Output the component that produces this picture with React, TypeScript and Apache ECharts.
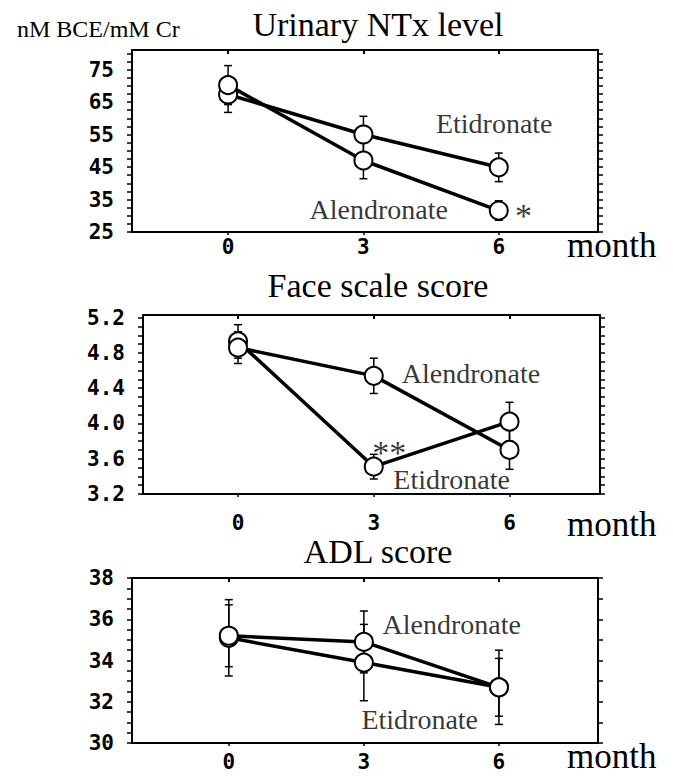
import React, { useEffect, useRef } from "react";
import * as echarts from "echarts";

// ---- data ----
const months = [0, 3, 6];

const ntxAlendronate = [70.2, 47.0, 31.6];
const ntxAlendronateErr = [6.0, 5.6, 3.0];
const ntxEtidronate = [67.3, 55.0, 44.9];
const ntxEtidronateErr = [5.5, 5.6, 4.4];

const faceAlendronate = [4.86, 4.54, 3.7];
const faceAlendronateErr = [0.18, 0.2, 0.22];
const faceEtidronate = [4.93, 3.51, 4.02];
const faceEtidronateErr = [0.19, 0.14, 0.22];

const adlAlendronate = [35.2, 34.9, 32.7];
const adlAlendronateErr = [1.5, 1.5, 1.4];
const adlEtidronate = [35.1, 33.9, 32.7];
const adlEtidronateErr = [1.85, 1.85, 1.8];

const ntxTicks = [25, 35, 45, 55, 65, 75];
const faceTicks = [3.2, 3.6, 4.0, 4.4, 4.8, 5.2];
const adlTicks = [30, 32, 34, 36, 38];

const ntxNotes = [
  { name: "Etidronate", value: [5.9, 58.5] },
  { name: "Alendronate", value: [3.34, 31.9] },
  { name: "*", value: [6.55, 30.0], label: { fontSize: 34 } },
];
const faceNotes = [
  { name: "Alendronate", value: [5.15, 4.57] },
  { name: "Etidronate", value: [4.72, 3.37] },
  { name: "**", value: [3.34, 3.67], label: { fontSize: 34 } },
];
const adlNotes = [
  { name: "Alendronate", value: [4.95, 35.74] },
  { name: "Etidronate", value: [4.24, 31.13] },
];

function steps(a: number, b: number, s: number) {
  const out: number[] = [];
  for (let v = a; v <= b + 1e-9; v += s) out.push(Math.round(v * 1000) / 1000);
  return out;
}

const SERIF = "Liberation Serif";
const MONO = "DejaVu Sans Mono";

type Panel = {
  title: string;
  titleY: number;
  grid: { left: number; top: number; width: number; height: number };
  xMin: number;
  xMax: number;
  yMin: number;
  yMax: number;
  labels: number[];
  leftTicks: number[];
  rightTicks: number[];
  fmt: (v: number) => string;
  xLabelMargin: number;
  monthY: number;
  alen: number[];
  alenErr: number[];
  etid: number[];
  etidErr: number[];
  notes: any[];
};

const panels: Panel[] = [
  {
    title: "Urinary NTx level",
    titleY: 24,
    grid: { left: 132, top: 50, width: 466, height: 182 },
    xMin: -2.13,
    xMax: 8.2,
    yMin: 25,
    yMax: 81,
    labels: ntxTicks,
    leftTicks: steps(25, 80, 2.5),
    rightTicks: steps(25, 80, 2.5),
    fmt: (v) => String(v),
    xLabelMargin: 4,
    monthY: 245,
    alen: ntxAlendronate,
    alenErr: ntxAlendronateErr,
    etid: ntxEtidronate,
    etidErr: ntxEtidronateErr,
    notes: ntxNotes,
  },
  {
    title: "Face scale score",
    titleY: 285,
    grid: { left: 143, top: 315, width: 457, height: 179 },
    xMin: -2.1,
    xMax: 8.0,
    yMin: 3.2,
    yMax: 5.23,
    labels: faceTicks,
    leftTicks: steps(3.2, 5.2, 0.1),
    rightTicks: steps(3.2, 5.2, 0.1),
    fmt: (v) => v.toFixed(1),
    xLabelMargin: 18,
    monthY: 524,
    alen: faceAlendronate,
    alenErr: faceAlendronateErr,
    etid: faceEtidronate,
    etidErr: faceEtidronateErr,
    notes: faceNotes,
  },
  {
    title: "ADL score",
    titleY: 551,
    grid: { left: 132, top: 578, width: 466, height: 165 },
    xMin: -2.15,
    xMax: 8.2,
    yMin: 30,
    yMax: 38,
    labels: adlTicks,
    leftTicks: steps(30, 38, 0.5),
    rightTicks: steps(30, 38, 1),
    fmt: (v) => String(v),
    xLabelMargin: 8,
    monthY: 756,
    alen: adlAlendronate,
    alenErr: adlAlendronateErr,
    etid: adlEtidronate,
    etidErr: adlEtidronateErr,
    notes: adlNotes,
  },
];

const AXIS_LINE = { show: true, lineStyle: { color: "#000", width: 2 } };

function textEl(x: number, y: number, text: string, size: number, align: string) {
  return {
    type: "text",
    x,
    y,
    style: {
      text,
      fontFamily: SERIF,
      fontSize: size,
      fill: "#000",
      align,
      verticalAlign: "middle",
    },
  };
}

function buildOption() {
  const grids: any[] = [];
  const xAxes: any[] = [];
  const yAxes: any[] = [];
  const series: any[] = [];
  const graphics: any[] = [];

  panels.forEach((p, i) => {
    grids.push({ ...p.grid, containLabel: false });
    xAxes.push({
      gridIndex: i,
      type: "value",
      position: "bottom",
      min: p.xMin,
      max: p.xMax,
      axisLine: { ...AXIS_LINE, onZero: false },
      axisTick: { show: true, customValues: months, length: 3, lineStyle: { color: "#000", width: 1.5 } },
      axisLabel: {
        customValues: months,
        color: "#000",
        fontFamily: MONO,
        fontWeight: "bold",
        fontSize: 21,
        margin: p.xLabelMargin,
      },
      splitLine: { show: false },
    });
    xAxes.push({
      gridIndex: i,
      type: "value",
      position: "top",
      min: p.xMin,
      max: p.xMax,
      axisLine: { ...AXIS_LINE, onZero: false },
      axisTick: { show: true, inside: true, customValues: months, length: 4, lineStyle: { color: "#000", width: 2 } },
      axisLabel: { show: false },
      splitLine: { show: false },
    });
    yAxes.push({
      gridIndex: i,
      type: "value",
      position: "left",
      min: p.yMin,
      max: p.yMax,
      axisLine: { ...AXIS_LINE, onZero: false },
      axisTick: { show: true, customValues: p.leftTicks, length: 5, lineStyle: { color: "#000", width: 1.5 } },
      axisLabel: {
        customValues: p.labels,
        formatter: (v: number) => p.fmt(v),
        color: "#000",
        fontFamily: MONO,
        fontWeight: "bold",
        fontSize: 21,
        margin: 18,
      },
      splitLine: { show: false },
    });
    yAxes.push({
      gridIndex: i,
      type: "value",
      position: "right",
      min: p.yMin,
      max: p.yMax,
      axisLine: { ...AXIS_LINE, onZero: false },
      axisTick: { show: true, customValues: p.rightTicks, length: 5, lineStyle: { color: "#000", width: 1.5 } },
      axisLabel: { show: false },
      splitLine: { show: false },
    });

    const xi = i * 2;
    const yi = i * 2;

    const errData = [
      ...months.map((m, k) => [m, p.alen[k], p.alenErr[k]]),
      ...months.map((m, k) => [m, p.etid[k], p.etidErr[k]]),
    ];
    series.push({
      type: "custom",
      xAxisIndex: xi,
      yAxisIndex: yi,
      z: 2,
      silent: true,
      encode: { x: 0, y: 1 },
      data: errData,
      renderItem: (params: any, api: any) => {
        const x = api.value(0);
        const y = api.value(1);
        const e = api.value(2);
        const top = api.coord([x, y + e]);
        const bot = api.coord([x, y - e]);
        const cw = 4;
        const st = { stroke: "#000", lineWidth: 1.5 };
        return {
          type: "group",
          children: [
            { type: "line", shape: { x1: top[0], y1: top[1], x2: bot[0], y2: bot[1] }, style: st },
            { type: "line", shape: { x1: top[0] - cw, y1: top[1], x2: top[0] + cw, y2: top[1] }, style: st },
            { type: "line", shape: { x1: bot[0] - cw, y1: bot[1], x2: bot[0] + cw, y2: bot[1] }, style: st },
          ],
        };
      },
    });

    const lineCommon = {
      type: "line",
      xAxisIndex: xi,
      yAxisIndex: yi,
      z: 3,
      symbol: "circle",
      symbolSize: 18,
      showSymbol: true,
      lineStyle: { color: "#000", width: 3.5 },
      itemStyle: { color: "#fff", borderColor: "#000", borderWidth: 2 },
      silent: true,
    };
    series.push({ ...lineCommon, name: "Etidronate", data: months.map((m, k) => [m, p.etid[k]]) });
    series.push({ ...lineCommon, name: "Alendronate", data: months.map((m, k) => [m, p.alen[k]]) });

    series.push({
      type: "scatter",
      xAxisIndex: xi,
      yAxisIndex: yi,
      z: 4,
      silent: true,
      symbolSize: 0.1,
      itemStyle: { color: "rgba(0,0,0,0)" },
      data: p.notes,
      label: {
        show: true,
        position: "inside",
        formatter: "{b}",
        color: "#000",
        fontFamily: SERIF,
        fontSize: 28,
      },
    });

    graphics.push(textEl(378, p.titleY, p.title, 34, "center"));
    graphics.push(textEl(567, p.monthY, "month", 35, "left"));
  });

  graphics.push(textEl(17, 29, "nM BCE/mM Cr", 24, "left"));

  return {
    animation: false,
    backgroundColor: "#fff",
    grid: grids,
    xAxis: xAxes,
    yAxis: yAxes,
    series,
    graphic: graphics,
  };
}

export default function App() {
  const ref = useRef<HTMLDivElement>(null);
  useEffect(() => {
    if (!ref.current) return;
    const chart = echarts.init(ref.current, undefined, { renderer: "svg" });
    chart.setOption(buildOption() as any);
    return () => chart.dispose();
  }, []);
  return (
    <div
      ref={ref}
      style={{ position: "fixed", left: 0, top: 0, width: 673, height: 776, background: "#fff" }}
    />
  );
}
